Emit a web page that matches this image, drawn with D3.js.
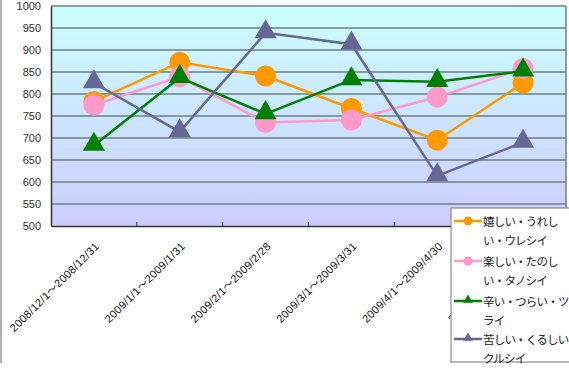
<!DOCTYPE html>
<html>
<head>
<meta charset="utf-8">
<script src="https://cdn.jsdelivr.net/npm/d3@7"></script>
<style>
  body { margin: 0; background: #fff; }
  text { font-family: "Liberation Sans", Arial, "Noto Sans CJK JP", sans-serif; }
</style>
</head>
<body>
<script>
var categories = ["2008/12/1～2008/12/31", "2009/1/1～2009/1/31", "2009/2/1～2009/2/28",
                  "2009/3/1～2009/3/31", "2009/4/1～2009/4/30", "2009/5/1～2009/5/31"];
var ureshii = [783, 872, 841, 767, 695, 825];
var tanoshii = [775, 839, 735, 741, 793, 858];
var tsurai = [683, 837, 755, 832, 828, 852];
var kurushii = [825, 714, 939, 913, 614, 690];
var seriesNames = ["嬉しい・うれしい・ウレシイ", "楽しい・たのしい・タノシイ", "辛い・つらい・ツライ", "苦しい・くるしい・クルシイ"];
var legendLines = [["嬉しい・うれし", "い・ウレシイ"], ["楽しい・たのし", "い・タノシイ"], ["辛い・つらい・ツ", "ライ"], ["苦しい・くるしい・", "クルシイ"]];
var yTicks = [500, 550, 600, 650, 700, 750, 800, 850, 900, 950, 1000];

var width = 569, height = 370;
var plotL = 51, plotR = 566, plotT = 6, plotB = 226;

var series = [
  {name: seriesNames[0], values: ureshii, color: "#ff9900", marker: "circle"},
  {name: seriesNames[1], values: tanoshii, color: "#ff99cc", marker: "circle"},
  {name: seriesNames[2], values: tsurai, color: "#008000", marker: "triangle"},
  {name: seriesNames[3], values: kurushii, color: "#666699", marker: "triangle"}
];

var svg = d3.select("body").append("svg")
  .attr("width", width)
  .attr("height", height);

var x = d3.scaleBand().domain(categories).range([plotL, plotR]);
var y = d3.scaleLinear().domain([500, 1000]).range([plotB, plotT]);

// background gradient
var grad = svg.append("defs").append("linearGradient")
  .attr("id", "bg").attr("x1", 0).attr("y1", 0).attr("x2", 0).attr("y2", 1);
grad.append("stop").attr("offset", "0%").attr("stop-color", "#ccffff");
grad.append("stop").attr("offset", "100%").attr("stop-color", "#ccccff");

svg.append("rect")
  .attr("x", plotL).attr("y", plotT)
  .attr("width", plotR - plotL).attr("height", plotB - plotT)
  .attr("fill", "url(#bg)");

// chart area left border
svg.append("line")
  .attr("x1", 1).attr("x2", 1).attr("y1", 0).attr("y2", 363)
  .attr("stroke", "#b0b0b0").attr("stroke-width", 2);

// gridlines
svg.selectAll(".grid")
  .data(yTicks.slice(1))
  .enter().append("line")
    .attr("class", "grid")
    .attr("x1", plotL).attr("x2", plotR)
    .attr("y1", function(d){ return y(d); })
    .attr("y2", function(d){ return y(d); })
    .attr("stroke", "#6f7f80").attr("stroke-width", 1.5);

svg.append("line")
  .attr("x1", plotR).attr("x2", plotR).attr("y1", plotT).attr("y2", plotB)
  .attr("stroke", "#6f7f80").attr("stroke-width", 1.5);

// y axis
var yAxis = d3.axisLeft(y).tickValues(yTicks).tickSize(0).tickPadding(10).tickFormat(d3.format("d"));
var gy = svg.append("g")
  .attr("transform", "translate(" + plotL + ",0)")
  .call(yAxis);
gy.select(".domain").attr("stroke", "#333").attr("stroke-width", 1.5);
gy.selectAll("text").attr("font-size", 11).attr("fill", "#333");

// x axis
var xAxis = d3.axisBottom(x).tickSize(0).tickFormat("");
var gx = svg.append("g")
  .attr("transform", "translate(0," + plotB + ")")
  .call(xAxis);
gx.select(".domain").attr("stroke", "#333").attr("stroke-width", 1.5);

// category separators
svg.selectAll(".sep")
  .data(categories.slice(1))
  .enter().append("line")
    .attr("class", "sep")
    .attr("x1", function(d){ return x(d); })
    .attr("x2", function(d){ return x(d); })
    .attr("y1", plotB - 4).attr("y2", plotB)
    .attr("stroke", "#333");

// x labels rotated
svg.selectAll(".xlab")
  .data(categories)
  .enter().append("text")
    .attr("class", "xlab")
    .attr("text-anchor", "end")
    .attr("font-size", 11)
    .attr("letter-spacing", 0.3)
    .attr("fill", "#111")
    .attr("transform", function(d){
      return "translate(" + (x(d) + x.bandwidth() / 2 + 6) + "," + (plotB + 21) + ") rotate(-45)";
    })
    .text(function(d){ return d; });

var line = d3.line()
  .x(function(d, i){ return x(categories[i]) + x.bandwidth() / 2; })
  .y(function(d){ return y(d); });

var tri = d3.symbol().type(d3.symbolTriangle).size(210);

series.forEach(function(s){
  svg.append("path")
    .datum(s.values)
    .attr("fill", "none")
    .attr("stroke", s.color)
    .attr("stroke-width", 2.5)
    .attr("d", line);

  var g = svg.append("g");
  if (s.marker === "circle") {
    g.selectAll("circle")
      .data(s.values)
      .enter().append("circle")
        .attr("cx", function(d, i){ return x(categories[i]) + x.bandwidth() / 2; })
        .attr("cy", function(d){ return y(d); })
        .attr("r", 10.5)
        .attr("fill", s.color);
  } else {
    g.selectAll("path")
      .data(s.values)
      .enter().append("path")
        .attr("d", tri)
        .attr("transform", function(d, i){
          return "translate(" + (x(categories[i]) + x.bandwidth() / 2) + "," + (y(d) - 1) + ")";
        })
        .attr("fill", s.color);
  }
});

// legend
var lg = svg.append("g").attr("transform", "translate(451,208)");
lg.append("rect")
  .attr("x", 0).attr("y", 0).attr("width", 125).attr("height", 154)
  .attr("fill", "#fff").attr("stroke", "#777").attr("stroke-width", 1);

var rowY = [13, 53, 93, 131];
series.forEach(function(s, i){
  var r = lg.append("g").attr("transform", "translate(0," + rowY[i] + ")");
  r.append("line")
    .attr("x1", 3).attr("x2", 31).attr("y1", 0).attr("y2", 0)
    .attr("stroke", s.color).attr("stroke-width", 2.5);
  if (s.marker === "circle") {
    r.append("circle").attr("cx", 17).attr("cy", 0).attr("r", 4.5).attr("fill", s.color);
  } else {
    r.append("path").attr("d", d3.symbol().type(d3.symbolTriangle).size(40))
      .attr("transform", "translate(17,-1)").attr("fill", s.color);
  }
  r.selectAll("text")
    .data(legendLines[i])
    .enter().append("text")
      .attr("x", 32)
      .attr("y", function(d, j){ return 5 + j * 19; })
      .attr("font-size", 11.5)
      .attr("letter-spacing", -0.8)
      .attr("fill", "#222")
      .style("font-family", "'Noto Sans CJK JP', sans-serif")
      .text(function(d){ return d; });
});
</script>
</body>
</html>
